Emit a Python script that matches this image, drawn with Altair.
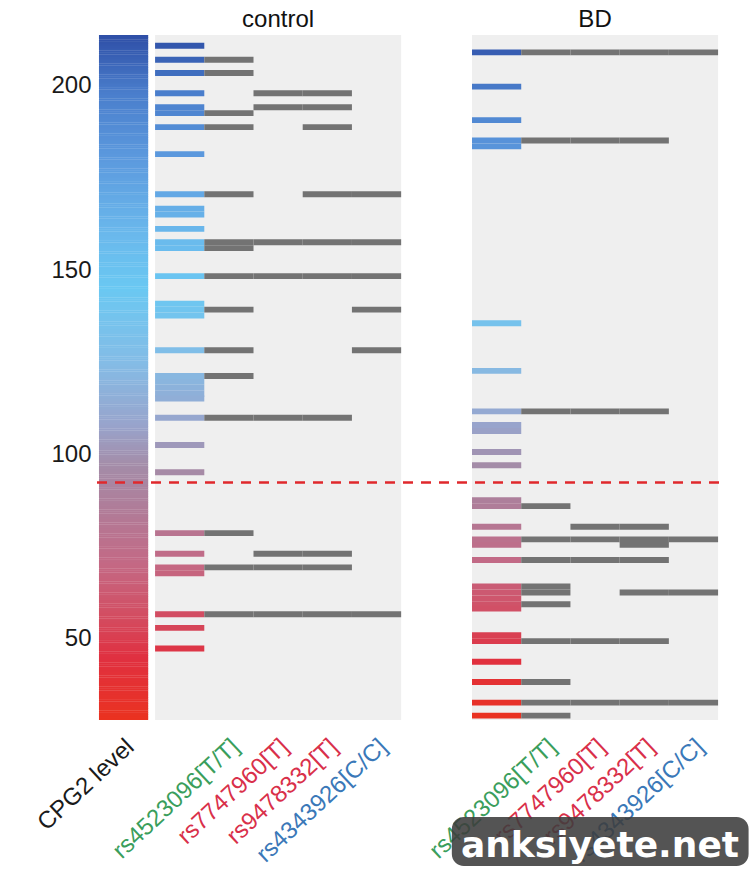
import altair as alt
import numpy as np
import pandas as pd

# ---- data -------------------------------------------------------------
SNP_LABELS = ["rs4523096[T/T]", "rs7747960[T]", "rs9478332[T]", "rs4343926[C/C]"]
SNP_COLORS = ["#3a9e5c", "#d9304a", "#d9304a", "#3a78b8"]
LEVEL_LABEL = "CPG2 level"
GROUPS = ["control", "BD"]

# CPG2 level of each subject, with carrier flags for the four SNPs
CTRL_LEVEL = [210.9, 207.1, 203.5, 198.0, 194.2, 192.6, 188.8, 181.5, 170.6, 166.7,
              165.1, 161.2, 157.6, 156.0, 148.4, 140.9, 139.3, 137.7, 128.3, 121.3,
              119.7, 118.1, 116.5, 115.2, 110.0, 102.6, 95.2, 78.7, 73.1, 69.4,
              67.8, 56.7, 53.0, 47.4]
CTRL_RS4523096 = [0, 1, 1, 0, 0, 1, 1, 0, 1, 0, 0, 0, 1, 1, 1, 0, 1, 0, 1, 1, 0, 0, 0, 0, 1, 0, 0, 1, 0, 1, 0, 1, 0, 0]
CTRL_RS7747960 = [0, 0, 0, 1, 1, 0, 0, 0, 0, 0, 0, 0, 1, 0, 1, 0, 0, 0, 0, 0, 0, 0, 0, 0, 1, 0, 0, 0, 1, 1, 0, 1, 0, 0]
CTRL_RS9478332 = [0, 0, 0, 1, 1, 0, 1, 0, 1, 0, 0, 0, 1, 0, 1, 0, 0, 0, 0, 0, 0, 0, 0, 0, 1, 0, 0, 0, 1, 1, 0, 1, 0, 0]
CTRL_RS4343926 = [0, 0, 0, 0, 0, 0, 0, 0, 1, 0, 0, 0, 1, 0, 1, 0, 1, 0, 1, 0, 0, 0, 0, 0, 0, 0, 0, 0, 0, 0, 0, 1, 0, 0]

BD_LEVEL = [209.1, 199.8, 190.7, 185.2, 183.6, 135.6, 122.7, 111.7, 108.0, 106.4,
            100.7, 97.1, 87.6, 86.0, 80.4, 77.0, 75.5, 71.4, 64.2, 62.6,
            61.0, 59.4, 58.2, 51.0, 49.4, 43.8, 38.3, 32.7, 29.2]
BD_RS4523096 = [1, 0, 0, 1, 0, 0, 0, 1, 0, 0, 0, 0, 0, 1, 0, 1, 0, 1, 1, 1, 0, 1, 0, 0, 1, 0, 1, 1, 1]
BD_RS7747960 = [1, 0, 0, 1, 0, 0, 0, 1, 0, 0, 0, 0, 0, 0, 1, 1, 0, 1, 0, 0, 0, 0, 0, 0, 1, 0, 0, 1, 0]
BD_RS9478332 = [1, 0, 0, 1, 0, 0, 0, 1, 0, 0, 0, 0, 0, 0, 1, 1, 1, 1, 0, 1, 0, 0, 0, 0, 1, 0, 0, 1, 0]
BD_RS4343926 = [1, 0, 0, 0, 0, 0, 0, 0, 0, 0, 0, 0, 0, 0, 0, 1, 0, 0, 0, 1, 0, 0, 0, 0, 0, 0, 0, 1, 0]

THRESHOLD = 92.4
Y_TICKS = [50, 100, 150, 200]

# colour ramp of the CPG2 level
RAMP_VALUES = [28, 45, 55, 70, 85, 97, 108, 125, 145, 160, 180, 198, 214]
RAMP_COLORS = ["#ea3220", "#e03040", "#d44a5e", "#c46884", "#b07c98", "#a48ca8",
               "#98a4cc", "#84bce6", "#6ac8f2", "#6ab8ec", "#5c9ade", "#4a7ecc", "#2e4ea6"]

# ---- layout (column units along x, CPG2 units along y) ----------------
Y_MIN, Y_MAX = 28.0, 213.8
X_MIN, X_MAX = -0.04, 12.68
ORIGIN = {"control": 1.14, "BD": 7.58}
HALF = 0.8           # half height of one subject row
LABEL_SHIFT = 0.24   # rotated labels end a little right of the column centre
LABEL_Y = 20.2
TITLE_Y = 216.0

series = {
    "control": (CTRL_LEVEL, [CTRL_RS4523096, CTRL_RS7747960, CTRL_RS9478332, CTRL_RS4343926]),
    "BD": (BD_LEVEL, [BD_RS4523096, BD_RS7747960, BD_RS9478332, BD_RS4343926]),
}

level_rows, snp_rows, panel_rows, label_rows, title_rows = [], [], [], [], []
for g in GROUPS:
    o = ORIGIN[g]
    levels, snps = series[g]
    panel_rows.append({"x": o, "x2": o + 5, "y": Y_MIN, "y2": Y_MAX})
    title_rows.append({"text": g, "x": o + 2.5, "y": TITLE_Y})
    for i, lv in enumerate(levels):
        level_rows.append({"x": o, "x2": o + 1, "y": lv - HALF, "y2": lv + HALF, "level": lv})
        for k, flags in enumerate(snps):
            if flags[i]:
                snp_rows.append({"x": o + 1 + k, "x2": o + 2 + k,
                                 "y": lv - HALF, "y2": lv + HALF})
    for k, (lab, col) in enumerate(zip(SNP_LABELS, SNP_COLORS)):
        label_rows.append({"text": lab, "color": col, "x": o + 1.5 + k + LABEL_SHIFT, "y": LABEL_Y})
label_rows.append({"text": LEVEL_LABEL, "color": "#1a1a1a", "x": 0.5 + LABEL_SHIFT, "y": LABEL_Y})

# colour bar built from the same ramp
bar_steps = np.arange(Y_MIN, Y_MAX, 0.5)
colorbar = pd.DataFrame({"x": 0.0, "x2": 1.0, "y": bar_steps,
                         "y2": np.minimum(bar_steps + 0.6, Y_MAX), "level": bar_steps + 0.25})

xs = alt.Scale(domain=[X_MIN, X_MAX], nice=False, zero=False)
ys = alt.Scale(domain=[Y_MIN, Y_MAX], nice=False, zero=False)
cs = alt.Scale(domain=RAMP_VALUES, range=RAMP_COLORS, interpolate="rgb")
yaxis = alt.Axis(values=Y_TICKS, title=None, ticks=False, domain=False, grid=False,
                 labelFontSize=24, labelColor="#1a1a1a", labelPadding=6,
                 labelFont="Liberation Sans")


def X(f="x"):
    return alt.X(f"{f}:Q", scale=xs, axis=None)


def Y(f="y"):
    return alt.Y(f"{f}:Q", scale=ys, axis=yaxis)


panels = alt.Chart(pd.DataFrame(panel_rows)).mark_rect(color="#efefef").encode(
    x=X(), x2="x2", y=Y(), y2="y2")

bar = alt.Chart(colorbar).mark_rect().encode(
    x=X(), x2="x2", y=Y(), y2="y2",
    color=alt.Color("level:Q", scale=cs, legend=None))

level_cells = alt.Chart(pd.DataFrame(level_rows)).mark_rect().encode(
    x=X(), x2="x2", y=Y(), y2="y2",
    color=alt.Color("level:Q", scale=cs, legend=None))

snp_cells = alt.Chart(pd.DataFrame(snp_rows)).mark_rect(color="#737373").encode(
    x=X(), x2="x2", y=Y(), y2="y2")

cutoff = alt.Chart(pd.DataFrame({"x": [X_MIN], "x2": [X_MAX], "y": [THRESHOLD]})).mark_rule(
    color="#e0282c", strokeWidth=2.6, strokeDash=[10, 8]).encode(
    x=X(), x2="x2", y=Y())

titles = alt.Chart(pd.DataFrame(title_rows)).mark_text(
    fontSize=24, font="Liberation Sans", color="#111111", baseline="alphabetic").encode(
    x=X(), y=Y(), text="text:N")

labels = alt.Chart(pd.DataFrame(label_rows)).mark_text(
    fontSize=24, font="Liberation Sans", angle=317, align="right", baseline="alphabetic").encode(
    x=X(), y=Y(), text="text:N", color=alt.Color("color:N", scale=None))

badge = alt.Chart(pd.DataFrame({"x": [7.17], "x2": [13.2], "y": [1.7], "y2": [-11.6]})).mark_rect(
    color="#3c3c3c", opacity=0.88, cornerRadius=12).encode(
    x=X(), x2="x2", y=Y(), y2="y2")
badge_text = alt.Chart(pd.DataFrame({"text": ["anksiyete.net"], "x": [10.18], "y": [-9.2]})).mark_text(
    fontSize=36, font="DejaVu Sans", fontWeight="bold", color="white", baseline="alphabetic").encode(
    x=X(), y=Y(), text="text:N")

chart = alt.layer(panels, bar, level_cells, snp_cells, cutoff, titles, labels,
                  badge, badge_text).properties(
    width=626, height=685,
    autosize=alt.AutoSizeParams(type="none"),
    padding={"left": 97, "top": 35, "right": 27, "bottom": 159},
    background="white",
).configure_view(stroke=None)

chart.save("out.html", embed_options={"renderer": "svg", "actions": False})
